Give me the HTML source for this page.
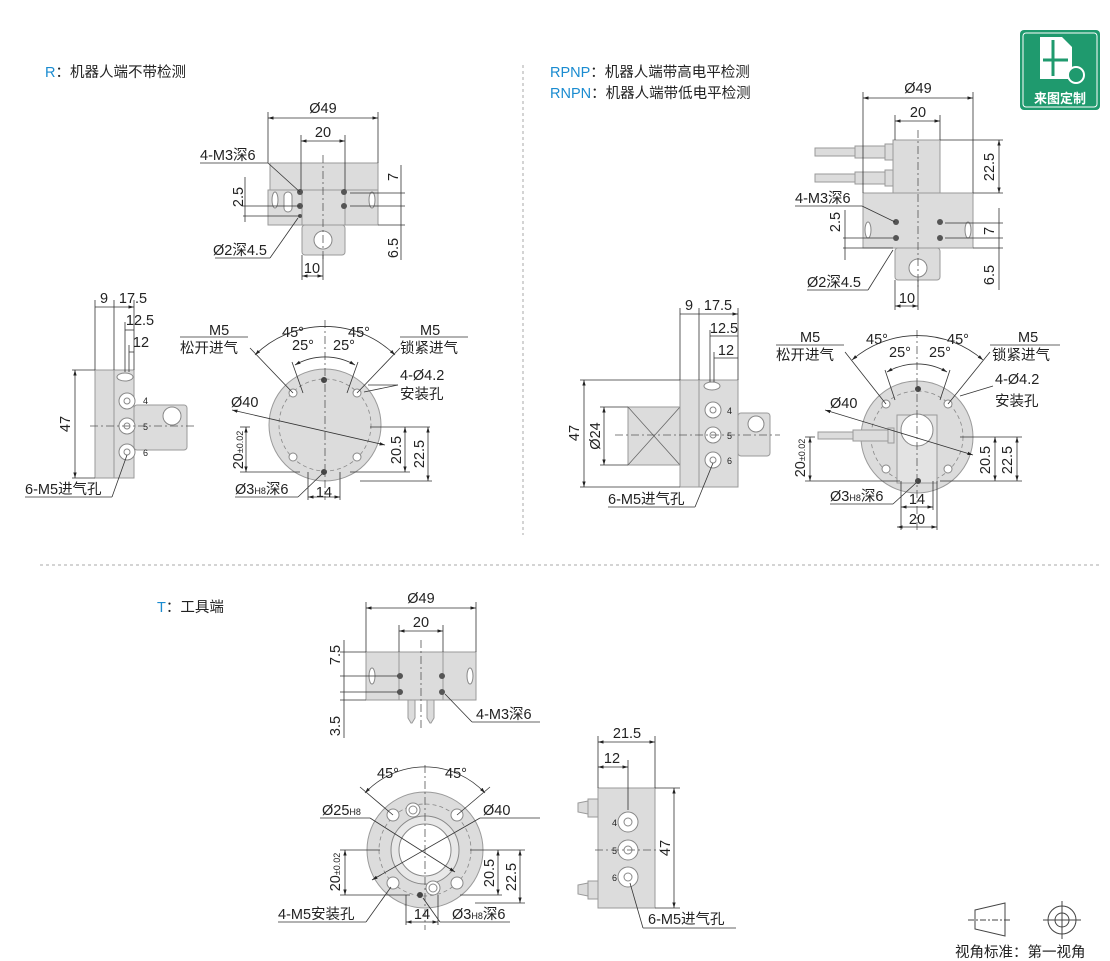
<!DOCTYPE html>
<html><head><meta charset="utf-8"><style>
html,body{margin:0;padding:0;background:#fff;width:1110px;height:961px;overflow:hidden}
svg{display:block}
text{font-family:"Liberation Sans","Noto Sans CJK SC",sans-serif;font-size:14.5px;fill:#222}
.b{fill:#dcdcdc;stroke:#9a9a9a;stroke-width:1}
.w{fill:#fff;stroke:#888;stroke-width:1}
.d{stroke:#333;stroke-width:.8;fill:none}
.c{stroke:#555;stroke-width:.8;fill:none;stroke-dasharray:8 3 2 3}
.h{stroke:#888;stroke-width:.8;fill:none;stroke-dasharray:4 3}
</style></head><body>
<svg width="1110" height="961" viewBox="0 0 1110 961" xmlns="http://www.w3.org/2000/svg">
<defs>
<marker id="a" viewBox="0 0 10 10" refX="10" refY="5" markerWidth="7" markerHeight="7" orient="auto-start-reverse"><path d="M0,2 L10,5 L0,8z" fill="#222"/></marker>
</defs>
<line x1="523" y1="65" x2="523" y2="535" stroke="#aaa" stroke-dasharray="3 3"/>
<line x1="40" y1="565" x2="1100" y2="565" stroke="#aaa" stroke-dasharray="3 3"/>
<text x="45" y="77"><tspan fill="#1a8bd0">R</tspan>：机器人端不带检测</text>
<text x="550" y="77"><tspan fill="#1a8bd0">RPNP</tspan>：机器人端带高电平检测</text>
<text x="550" y="98"><tspan fill="#1a8bd0">RNPN</tspan>：机器人端带低电平检测</text>
<text x="157" y="612"><tspan fill="#1a8bd0">T</tspan>：工具端</text>
<rect x="1020" y="30" width="80" height="80" rx="4" fill="#1f9a6e"/>
<rect x="1023" y="33" width="74" height="74" rx="3" fill="none" stroke="#fff" stroke-width="1"/>
<path d="M1040,37 h22 l10,10 v32 h-32z" fill="#fff"/>
<path d="M1053,40 v36 M1043,60 h25" stroke="#1f9a6e" stroke-width="3"/>
<circle cx="1076" cy="75" r="8" fill="#1f9a6e" stroke="#fff" stroke-width="2"/>
<text x="1060" y="103" text-anchor="middle" style="fill:#fff;font-weight:bold;font-size:13px">来图定制</text>

<!-- R top -->
<rect class="b" x="270" y="163" width="108" height="27"/>
<rect class="b" x="268" y="190" width="110" height="35"/>
<rect class="b" x="302" y="190" width="43" height="35"/>
<rect class="b" x="302" y="225" width="43" height="30" rx="3"/>
<circle class="w" cx="323" cy="240" r="9"/>
<ellipse class="w" cx="275" cy="200" rx="3" ry="8"/><rect class="w" x="284" y="192" width="8" height="20" rx="4"/>
<ellipse class="w" cx="372" cy="200" rx="3" ry="8"/>
<g fill="#555"><circle cx="300" cy="192" r="3"/><circle cx="300" cy="206" r="3"/><circle cx="344" cy="192" r="3"/><circle cx="344" cy="206" r="3"/><circle cx="300" cy="216" r="2"/></g>
<line class="c" x1="323" y1="155" x2="323" y2="260"/>
<g class="d">
<line x1="268" y1="112" x2="268" y2="163"/><line x1="378" y1="112" x2="378" y2="163"/>
<line x1="268" y1="118" x2="378" y2="118" marker-start="url(#a)" marker-end="url(#a)"/>
<line x1="301" y1="135" x2="301" y2="190"/><line x1="345" y1="135" x2="345" y2="190"/>
<line x1="301" y1="141" x2="345" y2="141" marker-start="url(#a)" marker-end="url(#a)"/>
<line x1="200" y1="163" x2="268" y2="163"/><line x1="268" y1="163" x2="300" y2="192"/>
<line x1="245" y1="177" x2="245" y2="222"/><line x1="243" y1="206" x2="300" y2="206"/><line x1="243" y1="216" x2="300" y2="216"/>
<line x1="215" y1="258" x2="270" y2="258"/><line x1="270" y1="258" x2="298" y2="218"/>
<line x1="350" y1="193" x2="405" y2="193"/><line x1="350" y1="206" x2="405" y2="206"/><line x1="378" y1="225" x2="405" y2="225"/>
<line x1="401" y1="165" x2="401" y2="260"/>
<line x1="302" y1="255" x2="302" y2="280"/><line x1="323" y1="255" x2="323" y2="280"/>
<line x1="302" y1="276" x2="323" y2="276" marker-start="url(#a)" marker-end="url(#a)"/>
</g>
<text x="323" y="113" text-anchor="middle">Ø49</text>
<text x="323" y="137" text-anchor="middle">20</text>
<text x="200" y="160">4-M3深6</text>
<text x="213" y="255">Ø2深4.5</text>
<text x="312" y="273" text-anchor="middle">10</text>
<text transform="translate(243,197) rotate(-90)" text-anchor="middle">2.5</text>
<text transform="translate(398,177) rotate(-90)" text-anchor="middle">7</text>
<text transform="translate(398,248) rotate(-90)" text-anchor="middle">6.5</text>

<!-- R side -->
<rect class="b" x="95" y="370" width="39" height="108"/>
<line x1="114" y1="370" x2="114" y2="478" stroke="#999"/>
<rect class="b" x="134" y="405" width="53" height="45" rx="3"/>
<circle class="w" cx="172" cy="416" r="9"/>
<ellipse class="w" cx="125" cy="377" rx="8" ry="4"/>
<g class="w"><circle cx="127" cy="401" r="8"/><circle cx="127" cy="426" r="8"/><circle cx="127" cy="452" r="8"/></g>
<g class="w"><circle cx="127" cy="401" r="3"/><circle cx="127" cy="426" r="3"/><circle cx="127" cy="452" r="3"/></g>
<text x="143" y="404" style="font-size:9px">4</text><text x="143" y="430" style="font-size:9px">5</text><text x="143" y="456" style="font-size:9px">6</text>
<line class="c" x1="90" y1="426" x2="195" y2="426"/>
<g class="d">
<line x1="95" y1="300" x2="95" y2="370"/><line x1="114" y1="300" x2="114" y2="370"/><line x1="134" y1="300" x2="134" y2="370"/>
<line x1="95" y1="307" x2="134" y2="307" marker-end="url(#a)"/>
<line x1="125" y1="322" x2="125" y2="372"/><line x1="125" y1="330" x2="134" y2="330"/>
<line x1="129" y1="345" x2="129" y2="372"/><line x1="129" y1="352" x2="134" y2="352"/>
<line x1="72" y1="370" x2="95" y2="370"/><line x1="72" y1="478" x2="95" y2="478"/>
<line x1="75" y1="370" x2="75" y2="478" marker-start="url(#a)" marker-end="url(#a)"/>
<line x1="25" y1="497" x2="112" y2="497"/><line x1="112" y1="497" x2="127" y2="455"/>
</g>
<text x="104" y="303" text-anchor="middle">9</text><text x="133" y="303" text-anchor="middle">17.5</text>
<text x="140" y="325" text-anchor="middle">12.5</text><text x="141" y="347" text-anchor="middle">12</text>
<text transform="translate(70,424) rotate(-90)" text-anchor="middle">47</text>
<text x="25" y="494">6-M5进气孔</text>

<!-- R circle -->
<circle class="b" cx="325" cy="425" r="56"/>
<circle class="h" cx="325" cy="425" r="46"/>
<g class="w"><circle cx="293" cy="393" r="4"/><circle cx="357" cy="393" r="4"/><circle cx="293" cy="457" r="4"/><circle cx="357" cy="457" r="4"/></g>
<circle cx="324" cy="380" r="3" fill="#444"/><circle cx="324" cy="472" r="3" fill="#444"/>
<line class="c" x1="325" y1="320" x2="325" y2="500"/>
<g class="d">
<path d="M255,355 A100,100 0 0 1 395,355" marker-start="url(#a)" marker-end="url(#a)"/>
<path d="M295,365 A60,60 0 0 1 355,365" marker-start="url(#a)" marker-end="url(#a)"/>
<line x1="250" y1="348" x2="293" y2="393"/><line x1="400" y1="348" x2="357" y2="393"/>
<line x1="292" y1="362" x2="303" y2="393"/><line x1="358" y1="362" x2="347" y2="393"/>
<line x1="180" y1="337" x2="248" y2="337"/><line x1="400" y1="337" x2="468" y2="337"/>
<line x1="232" y1="410" x2="385" y2="445" marker-start="url(#a)" marker-end="url(#a)"/>
<line x1="368" y1="385" x2="398" y2="385"/><line x1="364" y1="392" x2="398" y2="385"/>
<line x1="240" y1="427" x2="250" y2="427"/><line x1="370" y1="427" x2="430" y2="427"/>
<line x1="240" y1="472" x2="300" y2="472"/><line x1="350" y1="472" x2="410" y2="472"/><line x1="360" y1="481" x2="432" y2="481"/>
<line x1="246" y1="427" x2="246" y2="472" marker-start="url(#a)" marker-end="url(#a)"/>
<line x1="405" y1="427" x2="405" y2="472" marker-start="url(#a)" marker-end="url(#a)"/>
<line x1="428" y1="427" x2="428" y2="481" marker-start="url(#a)" marker-end="url(#a)"/>
<line x1="308" y1="472" x2="308" y2="500"/><line x1="340" y1="472" x2="340" y2="500"/>
<line x1="308" y1="497" x2="340" y2="497" marker-start="url(#a)" marker-end="url(#a)"/>
<line x1="235" y1="497" x2="298" y2="497"/><line x1="298" y1="497" x2="322" y2="474"/>
</g>
<text x="209" y="335">M5</text><text x="180" y="353">松开进气</text>
<text x="420" y="335">M5</text><text x="400" y="353">锁紧进气</text>
<text x="282" y="337">45°</text><text x="348" y="337">45°</text>
<text x="292" y="350">25°</text><text x="333" y="350">25°</text>
<text x="400" y="380">4-Ø4.2</text><text x="400" y="399">安装孔</text>
<text x="231" y="407">Ø40</text>
<text x="235" y="494">Ø3<tspan style="font-size:9px">H8</tspan>深6</text>
<text x="324" y="497" text-anchor="middle">14</text>
<text transform="translate(243,450) rotate(-90)" text-anchor="middle">20<tspan style="font-size:9px">±0.02</tspan></text>
<text transform="translate(401,450) rotate(-90)" text-anchor="middle">20.5</text>
<text transform="translate(424,454) rotate(-90)" text-anchor="middle">22.5</text>

<!-- RPNP top -->
<rect class="b" x="893" y="140" width="47" height="53"/>
<rect class="b" x="863" y="193" width="110" height="55"/>
<rect class="b" x="895" y="248" width="45" height="32" rx="3"/>
<circle class="w" cx="918" cy="268" r="9"/>
<g class="b"><rect x="815" y="148" width="40" height="8"/><rect x="855" y="146" width="30" height="12"/><rect x="885" y="144" width="8" height="16"/>
<rect x="815" y="174" width="40" height="8"/><rect x="855" y="172" width="30" height="12"/><rect x="885" y="170" width="8" height="16"/></g>
<ellipse class="w" cx="868" cy="230" rx="3" ry="8"/><ellipse class="w" cx="968" cy="230" rx="3" ry="8"/>
<g fill="#555"><circle cx="896" cy="222" r="3"/><circle cx="896" cy="238" r="3"/><circle cx="940" cy="222" r="3"/><circle cx="940" cy="238" r="3"/></g>
<line class="c" x1="918" y1="130" x2="918" y2="290"/>
<g class="d">
<line x1="863" y1="92" x2="863" y2="193"/><line x1="973" y1="92" x2="973" y2="193"/>
<line x1="863" y1="98" x2="973" y2="98" marker-start="url(#a)" marker-end="url(#a)"/>
<line x1="895" y1="115" x2="895" y2="140"/><line x1="940" y1="115" x2="940" y2="140"/>
<line x1="895" y1="121" x2="940" y2="121" marker-start="url(#a)" marker-end="url(#a)"/>
<line x1="940" y1="140" x2="1003" y2="140"/><line x1="973" y1="193" x2="1003" y2="193"/>
<line x1="999" y1="140" x2="999" y2="193" marker-start="url(#a)" marker-end="url(#a)"/>
<line x1="795" y1="206" x2="862" y2="206"/><line x1="862" y1="206" x2="895" y2="222"/>
<line x1="845" y1="210" x2="845" y2="260"/><line x1="843" y1="238" x2="893" y2="238"/><line x1="843" y1="248" x2="893" y2="248"/>
<line x1="807" y1="290" x2="868" y2="290"/><line x1="868" y1="290" x2="893" y2="250"/>
<line x1="945" y1="223" x2="1003" y2="223"/><line x1="945" y1="238" x2="1003" y2="238"/><line x1="973" y1="248" x2="1003" y2="248"/>
<line x1="999" y1="208" x2="999" y2="290"/>
<line x1="895" y1="280" x2="895" y2="310"/><line x1="918" y1="280" x2="918" y2="310"/>
<line x1="895" y1="306" x2="918" y2="306" marker-start="url(#a)" marker-end="url(#a)"/>
</g>
<text x="918" y="93" text-anchor="middle">Ø49</text><text x="918" y="117" text-anchor="middle">20</text>
<text x="795" y="203">4-M3深6</text><text x="807" y="287">Ø2深4.5</text>
<text x="907" y="303" text-anchor="middle">10</text>
<text transform="translate(994,167) rotate(-90)" text-anchor="middle">22.5</text>
<text transform="translate(994,231) rotate(-90)" text-anchor="middle">7</text>
<text transform="translate(994,275) rotate(-90)" text-anchor="middle">6.5</text>
<text transform="translate(840,222) rotate(-90)" text-anchor="middle">2.5</text>

<!-- RPNP side -->
<rect class="b" x="628" y="407" width="52" height="58"/>
<path d="M628,407 L680,465 M680,407 L628,465" stroke="#666" stroke-width=".8"/>
<rect class="b" x="680" y="380" width="58" height="107"/>
<line x1="699" y1="380" x2="699" y2="487" stroke="#999"/>
<rect class="b" x="738" y="413" width="32" height="43" rx="3"/>
<circle class="w" cx="756" cy="424" r="8"/>
<ellipse class="w" cx="712" cy="386" rx="8" ry="4"/>
<g class="w"><circle cx="713" cy="410" r="8"/><circle cx="713" cy="435" r="8"/><circle cx="713" cy="460" r="8"/></g>
<g class="w"><circle cx="713" cy="410" r="3"/><circle cx="713" cy="435" r="3"/><circle cx="713" cy="460" r="3"/></g>
<text x="727" y="414" style="font-size:9px">4</text><text x="727" y="439" style="font-size:9px">5</text><text x="727" y="464" style="font-size:9px">6</text>
<line class="c" x1="615" y1="435" x2="780" y2="435"/>
<g class="d">
<line x1="680" y1="308" x2="680" y2="380"/><line x1="699" y1="308" x2="699" y2="380"/><line x1="738" y1="308" x2="738" y2="380"/>
<line x1="680" y1="314" x2="738" y2="314" marker-end="url(#a)"/>
<line x1="710" y1="330" x2="710" y2="382"/><line x1="710" y1="336" x2="738" y2="336"/>
<line x1="714" y1="352" x2="714" y2="382"/><line x1="714" y1="358" x2="738" y2="358"/>
<line x1="580" y1="380" x2="680" y2="380"/><line x1="580" y1="487" x2="680" y2="487"/>
<line x1="584" y1="380" x2="584" y2="487" marker-start="url(#a)" marker-end="url(#a)"/>
<line x1="600" y1="407" x2="628" y2="407"/><line x1="600" y1="465" x2="628" y2="465"/>
<line x1="604" y1="407" x2="604" y2="465" marker-start="url(#a)" marker-end="url(#a)"/>
<line x1="608" y1="507" x2="695" y2="507"/><line x1="695" y1="507" x2="713" y2="463"/>
</g>
<text x="689" y="310" text-anchor="middle">9</text><text x="718" y="310" text-anchor="middle">17.5</text>
<text x="724" y="333" text-anchor="middle">12.5</text><text x="726" y="355" text-anchor="middle">12</text>
<text transform="translate(579,433) rotate(-90)" text-anchor="middle">47</text>
<text transform="translate(600,436) rotate(-90)" text-anchor="middle">Ø24</text>
<text x="608" y="504">6-M5进气孔</text>

<!-- RPNP circle -->
<circle class="b" cx="917" cy="437" r="56"/>
<circle class="h" cx="917" cy="437" r="46"/>
<path class="b" d="M897,415 h40 v68 h-40z" style="fill:#e3e3e3"/>
<circle class="w" cx="917" cy="430" r="16"/>
<g class="w"><circle cx="886" cy="404" r="4"/><circle cx="948" cy="404" r="4"/><circle cx="886" cy="469" r="4"/><circle cx="948" cy="469" r="4"/></g>
<circle cx="918" cy="389" r="3" fill="#444"/><circle cx="918" cy="481" r="3" fill="#444"/>
<g class="b"><rect x="818" y="432" width="35" height="7"/><rect x="853" y="430" width="35" height="11"/><rect x="888" y="428" width="6" height="15"/></g>
<line class="c" x1="917" y1="330" x2="917" y2="530"/>
<g class="d">
<path d="M852,360 A100,100 0 0 1 983,360" marker-start="url(#a)" marker-end="url(#a)"/>
<path d="M887,372 A60,60 0 0 1 947,372" marker-start="url(#a)" marker-end="url(#a)"/>
<line x1="845" y1="352" x2="886" y2="404"/><line x1="990" y1="352" x2="948" y2="404"/>
<line x1="885" y1="370" x2="895" y2="400"/><line x1="950" y1="370" x2="940" y2="400"/>
<line x1="776" y1="345" x2="844" y2="345"/><line x1="990" y1="345" x2="1060" y2="345"/>
<line x1="825" y1="410" x2="973" y2="455" marker-start="url(#a)" marker-end="url(#a)"/>
<line x1="960" y1="396" x2="993" y2="386"/>
<line x1="805" y1="437" x2="815" y2="437"/><line x1="960" y1="437" x2="1022" y2="437"/>
<line x1="805" y1="481" x2="900" y2="481"/><line x1="940" y1="481" x2="1022" y2="481"/>
<line x1="810" y1="437" x2="810" y2="481" marker-start="url(#a)" marker-end="url(#a)"/>
<line x1="995" y1="437" x2="995" y2="481" marker-start="url(#a)" marker-end="url(#a)"/>
<line x1="1017" y1="437" x2="1017" y2="481" marker-start="url(#a)" marker-end="url(#a)"/>
<line x1="901" y1="481" x2="901" y2="530"/><line x1="933" y1="481" x2="933" y2="510"/><line x1="937" y1="481" x2="937" y2="530"/>
<line x1="901" y1="507" x2="933" y2="507" marker-start="url(#a)" marker-end="url(#a)"/>
<line x1="897" y1="527" x2="937" y2="527" marker-start="url(#a)" marker-end="url(#a)"/>
<line x1="830" y1="504" x2="893" y2="504"/><line x1="893" y1="504" x2="916" y2="483"/>
</g>
<text x="800" y="342">M5</text><text x="776" y="360">松开进气</text>
<text x="1018" y="342">M5</text><text x="992" y="360">锁紧进气</text>
<text x="866" y="344">45°</text><text x="947" y="344">45°</text>
<text x="889" y="357">25°</text><text x="929" y="357">25°</text>
<text x="995" y="384">4-Ø4.2</text><text x="995" y="406">安装孔</text>
<text x="830" y="408">Ø40</text>
<text x="830" y="501">Ø3<tspan style="font-size:9px">H8</tspan>深6</text>
<text x="917" y="504" text-anchor="middle">14</text><text x="917" y="524" text-anchor="middle">20</text>
<text transform="translate(805,458) rotate(-90)" text-anchor="middle">20<tspan style="font-size:9px">±0.02</tspan></text>
<text transform="translate(990,460) rotate(-90)" text-anchor="middle">20.5</text>
<text transform="translate(1012,460) rotate(-90)" text-anchor="middle">22.5</text>

<!-- T top -->
<rect class="b" x="366" y="652" width="110" height="48"/>
<rect class="b" x="399" y="652" width="44" height="48"/>
<path class="b" d="M408,700 h7 v18 l-3,5 h-1 l-3,-5z M427,700 h7 v18 l-3,5 h-1 l-3,-5z"/>
<ellipse class="w" cx="372" cy="676" rx="3" ry="8"/><ellipse class="w" cx="470" cy="676" rx="3" ry="8"/>
<g fill="#555"><circle cx="400" cy="676" r="3"/><circle cx="400" cy="692" r="3"/><circle cx="442" cy="676" r="3"/><circle cx="442" cy="692" r="3"/></g>
<line class="c" x1="421" y1="640" x2="421" y2="730"/>
<g class="d">
<line x1="366" y1="602" x2="366" y2="652"/><line x1="476" y1="602" x2="476" y2="652"/>
<line x1="366" y1="608" x2="476" y2="608" marker-start="url(#a)" marker-end="url(#a)"/>
<line x1="399" y1="625" x2="399" y2="652"/><line x1="443" y1="625" x2="443" y2="652"/>
<line x1="399" y1="631" x2="443" y2="631" marker-start="url(#a)" marker-end="url(#a)"/>
<line x1="340" y1="652" x2="366" y2="652"/><line x1="340" y1="676" x2="398" y2="676"/>
<line x1="340" y1="692" x2="398" y2="692"/><line x1="340" y1="700" x2="366" y2="700"/>
<line x1="344" y1="640" x2="344" y2="738"/>
<line x1="445" y1="694" x2="472" y2="722"/><line x1="472" y1="722" x2="540" y2="722"/>
</g>
<text x="421" y="603" text-anchor="middle">Ø49</text><text x="421" y="627" text-anchor="middle">20</text>
<text transform="translate(340,655) rotate(-90)" text-anchor="middle">7.5</text>
<text transform="translate(340,726) rotate(-90)" text-anchor="middle">3.5</text>
<text x="476" y="719">4-M3深6</text>

<!-- T circle -->
<path class="b" d="M405,905 h35 v-10 h-35z"/>
<circle class="b" cx="425" cy="850" r="58"/>
<circle class="h" cx="425" cy="850" r="46"/>
<circle class="w" cx="425" cy="850" r="34" style="fill:#e8e8e8"/>
<circle class="w" cx="425" cy="850" r="26"/>
<g class="w"><circle cx="393" cy="815" r="6"/><circle cx="457" cy="815" r="6"/><circle cx="393" cy="883" r="6"/><circle cx="457" cy="883" r="6"/>
<circle cx="413" cy="810" r="7"/><circle cx="413" cy="810" r="4"/><circle cx="433" cy="888" r="7"/><circle cx="433" cy="888" r="4"/></g>
<circle cx="420" cy="895" r="3" fill="#444"/>
<line class="c" x1="425" y1="765" x2="425" y2="930"/>
<g class="d">
<path d="M365,793 A82,82 0 0 1 485,793" marker-start="url(#a)" marker-end="url(#a)"/>
<line x1="360" y1="787" x2="393" y2="815"/><line x1="490" y1="787" x2="457" y2="815"/>
<line x1="320" y1="818" x2="370" y2="818"/><line x1="370" y1="818" x2="455" y2="872" marker-end="url(#a)"/>
<line x1="480" y1="818" x2="540" y2="818"/><line x1="480" y1="818" x2="372" y2="880" marker-end="url(#a)"/>
<line x1="340" y1="850" x2="380" y2="850"/><line x1="470" y1="850" x2="525" y2="850"/>
<line x1="340" y1="895" x2="410" y2="895"/><line x1="460" y1="895" x2="502" y2="895"/><line x1="475" y1="903" x2="525" y2="903"/>
<line x1="345" y1="850" x2="345" y2="895" marker-start="url(#a)" marker-end="url(#a)"/>
<line x1="498" y1="850" x2="498" y2="895" marker-start="url(#a)" marker-end="url(#a)"/>
<line x1="520" y1="850" x2="520" y2="903" marker-start="url(#a)" marker-end="url(#a)"/>
<line x1="406" y1="895" x2="406" y2="925"/><line x1="438" y1="895" x2="438" y2="925"/>
<line x1="406" y1="922" x2="438" y2="922" marker-start="url(#a)" marker-end="url(#a)"/>
<line x1="278" y1="922" x2="366" y2="922"/><line x1="366" y1="922" x2="391" y2="887"/>
<line x1="440" y1="922" x2="510" y2="922"/><line x1="440" y1="922" x2="423" y2="898"/>
</g>
<text x="377" y="778">45°</text><text x="445" y="778">45°</text>
<text x="322" y="815">Ø25<tspan style="font-size:9px">H8</tspan></text>
<text x="483" y="815">Ø40</text>
<text x="278" y="919">4-M5安装孔</text>
<text x="422" y="919" text-anchor="middle">14</text>
<text x="452" y="919">Ø3<tspan style="font-size:9px">H8</tspan>深6</text>
<text transform="translate(340,872) rotate(-90)" text-anchor="middle">20<tspan style="font-size:9px">±0.02</tspan></text>
<text transform="translate(494,873) rotate(-90)" text-anchor="middle">20.5</text>
<text transform="translate(516,877) rotate(-90)" text-anchor="middle">22.5</text>

<!-- T side -->
<rect class="b" x="598" y="788" width="57" height="120"/>
<path class="b" d="M578,803 L588,801 V814 L578,812z M588,799 h10 v18 h-10z"/>
<path class="b" d="M578,885 L588,883 V896 L578,894z M588,881 h10 v18 h-10z"/>
<g class="w"><circle cx="628" cy="822" r="10"/><circle cx="628" cy="850" r="10"/><circle cx="628" cy="877" r="10"/></g>
<g class="w"><circle cx="628" cy="822" r="4"/><circle cx="628" cy="850" r="4"/><circle cx="628" cy="877" r="4"/></g>
<text x="612" y="826" style="font-size:9px">4</text><text x="612" y="854" style="font-size:9px">5</text><text x="612" y="881" style="font-size:9px">6</text>
<line class="c" x1="595" y1="850" x2="660" y2="850"/>
<g class="d">
<line x1="598" y1="736" x2="598" y2="788"/><line x1="655" y1="736" x2="655" y2="788"/>
<line x1="598" y1="742" x2="655" y2="742" marker-start="url(#a)" marker-end="url(#a)"/>
<line x1="628" y1="760" x2="628" y2="810"/><line x1="598" y1="767" x2="628" y2="767" marker-start="url(#a)" marker-end="url(#a)"/>
<line x1="655" y1="788" x2="680" y2="788"/><line x1="655" y1="908" x2="680" y2="908"/>
<line x1="674" y1="788" x2="674" y2="908" marker-start="url(#a)" marker-end="url(#a)"/>
<line x1="643" y1="928" x2="736" y2="928"/><line x1="643" y1="928" x2="630" y2="883"/>
</g>
<text x="627" y="738" text-anchor="middle">21.5</text><text x="612" y="763" text-anchor="middle">12</text>
<text transform="translate(670,848) rotate(-90)" text-anchor="middle">47</text>
<text x="648" y="924">6-M5进气孔</text>

<path d="M975,910 L1005,903 V936 L975,929z" fill="none" stroke="#444"/>
<line x1="968" y1="920" x2="1012" y2="920" stroke="#444" stroke-dasharray="6 2 2 2"/>
<circle cx="1062" cy="920" r="14" fill="none" stroke="#444"/><circle cx="1062" cy="920" r="7" fill="none" stroke="#444"/>
<line x1="1043" y1="920" x2="1081" y2="920" stroke="#444"/><line x1="1062" y1="901" x2="1062" y2="939" stroke="#444"/>
<text x="955" y="957">视角标准：第一视角</text>
</svg>
</body></html>
